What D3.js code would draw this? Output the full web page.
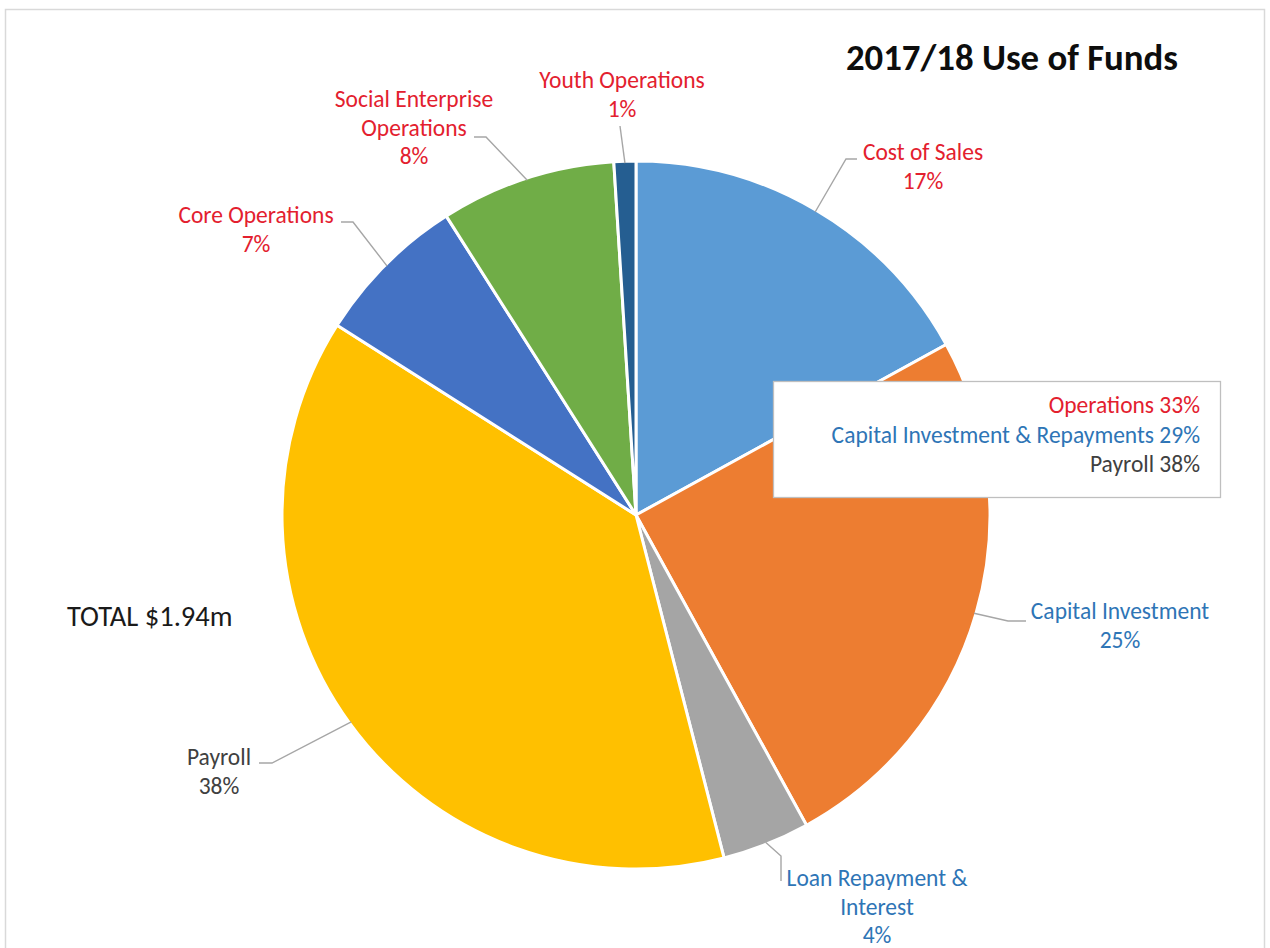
<!DOCTYPE html>
<html>
<head>
<meta charset="utf-8">
<script src="https://cdn.jsdelivr.net/npm/d3@7"></script>
<style>
  html, body { margin: 0; padding: 0; background: #fff; }
  svg { display: block; }
  text { font-family: Carlito, Calibri, Lato, "Open Sans", sans-serif; }
</style>
</head>
<body>
<svg id="chart" width="1270" height="948"></svg>
<script>
// Spending categories, clockwise from 12 o'clock
const categories = [
  "Cost of Sales",
  "Capital Investment",
  "Loan Repayment & Interest",
  "Payroll",
  "Core Operations",
  "Social Enterprise Operations",
  "Youth Operations"
];
// Share of total spend, percent
const shares = [17, 25, 4, 38, 7, 8, 1];
// Summary group each category rolls up into
const groupOf = ["Operations", "Capital Investment & Repayments", "Capital Investment & Repayments",
                 "Payroll", "Operations", "Operations", "Operations"];
const groupNames = ["Operations", "Capital Investment & Repayments", "Payroll"];
// Wrapped label text for each category
const labelLines = [
  ["Cost of Sales"],
  ["Capital Investment"],
  ["Loan Repayment &", "Interest"],
  ["Payroll"],
  ["Core Operations"],
  ["Social Enterprise", "Operations"],
  ["Youth Operations"]
];
const titleText = "2017/18 Use of Funds";
const totalText = "TOTAL $1.94m";

// Styling
const sliceColors = ["#5b9bd5", "#ed7d31", "#a5a5a5", "#ffc000", "#4472c4", "#70ad47", "#255e91"];
const groupColors = { "Operations": "#e3202e", "Capital Investment & Repayments": "#2e75b6", "Payroll": "#404040" };

// Label placement: text centre x, first baseline y, leader elbow and end points
const labelLayout = [
  { x: 923,  y: 160, pts: [[846, 159], [857, 159]] },
  { x: 1120, y: 619, pts: [[1008, 621], [1026, 621]] },
  { x: 877,  y: 886, pts: [[781, 856], [781, 881]] },
  { x: 219,  y: 765, pts: [[272, 763], [259, 763]] },
  { x: 256,  y: 223, pts: [[353, 222], [341, 222]] },
  { x: 414,  y: 107, pts: [[486, 137], [474, 137]] },
  { x: 622,  y: 88,  pts: [[620, 126]] }
];

const svg = d3.select("#chart");
const cx = 636, cy = 515, R = 354;
const lineGap = 28.5;
const labelSize = 23.5;

// Outer frame
svg.append("rect")
  .attr("x", 5.5).attr("y", 9.5).attr("width", 1259).attr("height", 960)
  .attr("fill", "#fff").attr("stroke", "#d9d9d9").attr("stroke-width", 1.5);

const pie = d3.pie().sort(null).value(d => d)(shares);
const arc = d3.arc().innerRadius(0).outerRadius(R);
const edgeArc = d3.arc().innerRadius(R - 2).outerRadius(R - 2);

const g = svg.append("g").attr("transform", `translate(${cx},${cy})`);
g.selectAll("path.slice")
  .data(pie)
  .join("path")
  .attr("class", "slice")
  .attr("d", arc)
  .attr("fill", (d, i) => sliceColors[i])
  .attr("stroke", "#fff")
  .attr("stroke-width", 3)
  .attr("stroke-linejoin", "round");

// Leader lines from each slice edge to its label
const line = d3.line();
pie.forEach((d, i) => {
  const [px, py] = edgeArc.centroid(d);
  const pts = [[cx + px, cy + py], ...labelLayout[i].pts];
  svg.append("path")
    .attr("d", line(pts))
    .attr("fill", "none")
    .attr("stroke", "#a6a6a6")
    .attr("stroke-width", 1.4);
});

// Category labels with percentages
pie.forEach((d, i) => {
  const L = labelLayout[i];
  const t = svg.append("text")
    .attr("text-anchor", "middle")
    .attr("font-size", labelSize)
    .attr("fill", groupColors[groupOf[i]]);
  const lines = [...labelLines[i], d3.format(".0f")(shares[i]) + "%"];
  lines.forEach((s, k) => {
    t.append("tspan").attr("x", L.x).attr("y", L.y + k * lineGap).text(s);
  });
});

// Summary box of grouped totals
const groupTotals = groupNames.map(n => d3.sum(shares.filter((v, i) => groupOf[i] === n)));
svg.append("rect")
  .attr("x", 773.5).attr("y", 381.5).attr("width", 447).attr("height", 116)
  .attr("fill", "#fff").attr("stroke", "#bfbfbf").attr("stroke-width", 1.3);
groupNames.forEach((n, k) => {
  svg.append("text")
    .attr("x", 1200).attr("y", 413 + k * 29.5)
    .attr("text-anchor", "end")
    .attr("font-size", labelSize)
    .attr("fill", groupColors[n])
    .text(`${n} ${groupTotals[k]}%`);
});

// Title and total
svg.append("text")
  .attr("x", 1178).attr("y", 70)
  .attr("text-anchor", "end")
  .attr("font-size", 36.8)
  .attr("font-weight", "bold")
  .attr("fill", "#0d0d0d")
  .text(titleText);

svg.append("text")
  .attr("x", 67).attr("y", 626)
  .attr("font-size", 28.5)
  .attr("fill", "#1a1a1a")
  .text(totalText);
</script>
</body>
</html>
